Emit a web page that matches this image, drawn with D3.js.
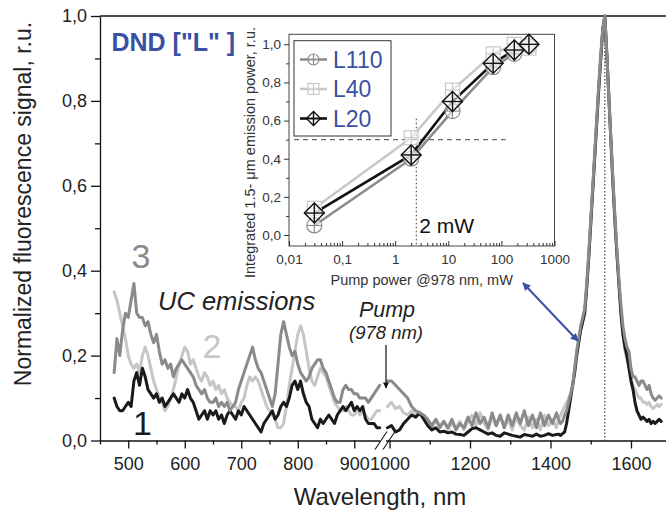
<!DOCTYPE html>
<html>
<head>
<meta charset="utf-8">
<script src="https://cdn.jsdelivr.net/npm/d3@7"></script>
<style>
  body { margin: 0; background: #fff; }
  svg { display: block; }
  text { font-family: "Liberation Sans", Arial, Helvetica, sans-serif; }
</style>
</head>
<body>
<svg id="chart" width="666" height="514"></svg>
<script>
// ---------- spectra: up-conversion part (nm) ----------
const wavelengthUC = [475,480,485,490,495,500,505,510,515,520,525,530,535,540,545,550,555,560,565,570,
  575,580,585,590,595,600,605,610,615,620,625,630,635,640,645,650,655,660,665,670,
  675,680,685,690,695,700,705,710,715,720,725,730,735,740,745,750,755,760,765,770,
  775,780,785,790,795,800,805,810,815,820,825,830,835,840,845,850,855,860,865,870,
  875,880,885,890,895,900,905,910,915,920,925,930,935,940,945];
const sample3UC = [0.16,0.24,0.20,0.26,0.30,0.29,0.33,0.37,0.30,0.29,
  0.29,0.27,0.28,0.25,0.23,0.25,0.21,0.18,0.19,0.17,
  0.18,0.15,0.17,0.18,0.19,0.18,0.17,0.16,0.15,0.13,
  0.12,0.11,0.12,0.10,0.09,0.09,0.10,0.08,0.09,0.08,
  0.09,0.07,0.08,0.09,0.12,0.14,0.16,0.18,0.20,0.22,
  0.19,0.17,0.16,0.14,0.12,0.10,0.08,0.11,0.18,0.25,
  0.28,0.25,0.22,0.20,0.21,0.18,0.16,0.15,0.14,0.15,
  0.17,0.18,0.19,0.19,0.17,0.16,0.14,0.12,0.10,0.09,
  0.09,0.12,0.13,0.12,0.12,0.11,0.11,0.10,0.10,0.10,
  0.09,0.10,0.11,0.12,0.13];
const sample2UC = [0.35,0.33,0.30,0.27,0.24,0.20,0.18,0.17,0.18,0.16,
  0.20,0.22,0.20,0.17,0.14,0.12,0.10,0.09,0.07,0.08,
  0.10,0.12,0.15,0.18,0.20,0.22,0.21,0.18,0.19,0.17,
  0.15,0.14,0.16,0.15,0.13,0.14,0.12,0.13,0.11,0.12,
  0.10,0.09,0.08,0.08,0.07,0.09,0.10,0.13,0.15,0.14,
  0.15,0.14,0.12,0.10,0.08,0.07,0.06,0.05,0.03,0.03,
  0.04,0.08,0.13,0.17,0.21,0.25,0.27,0.25,0.21,0.17,
  0.14,0.13,0.15,0.17,0.16,0.15,0.13,0.11,0.09,0.08,
  0.07,0.07,0.08,0.07,0.06,0.06,0.07,0.06,0.07,0.06,
  0.05,0.05,0.06,0.07,0.07];
const sample1UC = [0.10,0.08,0.07,0.07,0.08,0.09,0.08,0.14,0.16,0.13,
  0.17,0.15,0.12,0.11,0.10,0.11,0.09,0.10,0.08,0.09,
  0.10,0.11,0.10,0.09,0.11,0.10,0.12,0.10,0.09,0.07,
  0.05,0.06,0.07,0.05,0.07,0.06,0.07,0.05,0.06,0.04,
  0.06,0.07,0.06,0.05,0.07,0.06,0.08,0.07,0.06,0.05,
  0.04,0.03,0.02,0.04,0.05,0.06,0.07,0.05,0.06,0.08,
  0.09,0.08,0.10,0.13,0.14,0.12,0.14,0.11,0.09,0.08,
  0.05,0.04,0.03,0.05,0.04,0.05,0.06,0.05,0.04,0.06,
  0.07,0.08,0.07,0.08,0.09,0.07,0.08,0.07,0.08,0.05,
  0.04,0.04,0.04,0.03,0.03];

// ---------- spectra: 1.5 um emission part (nm) ----------
const wavelengthIR = [995,1005,1015,1025,1035,1045,1055,1065,1075,1085,
  1095,1105,1115,1125,1135,1145,1155,1165,1175,1185,
  1195,1205,1215,1225,1235,1245,1255,1265,1275,1285,
  1295,1305,1315,1325,1335,1345,1355,1365,1375,1385,
  1395,1405,1415,
  1420,1425,1430,1435,1440,1445,1450,1455,1460,1465,
  1470,1475,1480,1485,1490,1495,1500,1505,1510,1515,
  1520,1525,1530,1535,1540,1545,1550,1555,1560,1565,
  1570,1575,1580,1585,1590,1595,1600,1605,1610,1615,
  1620,1625,1630,1635,1640,1645,1650,1655,1660,1665,
  1670,1675];
const sample3IR = [0.14,0.14,0.13,0.12,0.11,0.10,0.08,0.07,0.065,0.06,
  0.05,0.035,0.05,0.03,0.045,0.03,0.05,0.025,0.04,0.03,
  0.055,0.035,0.065,0.04,0.055,0.03,0.065,0.035,0.06,0.03,
  0.06,0.035,0.065,0.04,0.07,0.035,0.06,0.03,0.065,0.035,
  0.06,0.04,0.065,
  0.05,0.04,0.045,0.06,0.07,0.09,0.11,0.13,0.17,0.21,
  0.24,0.27,0.29,0.31,0.37,0.44,0.52,0.60,0.68,0.76,
  0.84,0.91,0.97,1.00,0.91,0.81,0.71,0.62,0.53,0.45,
  0.38,0.32,0.27,0.24,0.22,0.21,0.17,0.15,0.15,0.14,
  0.13,0.14,0.14,0.13,0.12,0.13,0.11,0.10,0.095,0.10,
  0.105,0.10];
const sample2IR = [0.08,0.09,0.075,0.08,0.065,0.06,0.07,0.06,0.065,0.055,
  0.045,0.03,0.05,0.035,0.045,0.025,0.04,0.03,0.045,0.025,
  0.045,0.06,0.035,0.065,0.04,0.025,0.055,0.035,0.06,0.03,
  0.05,0.025,0.055,0.035,0.025,0.055,0.03,0.05,0.025,0.06,
  0.035,0.05,0.03,
  0.05,0.06,0.07,0.08,0.09,0.10,0.11,0.13,0.16,0.20,
  0.23,0.26,0.28,0.30,0.36,0.43,0.51,0.59,0.67,0.75,
  0.83,0.90,0.97,1.00,0.91,0.81,0.71,0.61,0.52,0.44,
  0.37,0.30,0.25,0.21,0.19,0.17,0.15,0.13,0.12,0.11,
  0.10,0.10,0.09,0.09,0.085,0.09,0.08,0.075,0.08,0.085,
  0.08,0.085];
const sample1IR = [0.03,0.035,0.02,0.025,0.04,0.05,0.06,0.055,0.065,0.05,
  0.035,0.025,0.03,0.02,0.022,0.018,0.02,0.015,0.014,0.012,
  0.02,0.028,0.03,0.025,0.02,0.015,0.018,0.012,0.01,0.018,
  0.015,0.012,0.01,0.008,0.014,0.012,0.01,0.015,0.01,0.012,
  0.016,0.012,0.014,
  0.015,0.012,0.016,0.02,0.04,0.07,0.10,0.13,0.16,0.20,
  0.23,0.26,0.28,0.30,0.36,0.43,0.51,0.59,0.67,0.75,
  0.83,0.90,0.97,1.00,0.91,0.81,0.71,0.61,0.52,0.44,
  0.37,0.30,0.25,0.22,0.20,0.17,0.14,0.12,0.09,0.07,
  0.06,0.05,0.055,0.05,0.045,0.05,0.04,0.045,0.04,0.045,
  0.05,0.045];

// ---------- inset: integrated emission vs pump power ----------
const pumpPower = [0.03, 2, 12, 70, 175, 330];
const emissionL110 = [0.05, 0.40, 0.65, 0.88, 0.95, 0.99];
const emissionL40  = [0.14, 0.51, 0.76, 0.95, 1.00, 0.98];
const emissionL20  = [0.115, 0.42, 0.70, 0.90, 0.97, 1.00];
const insetSeriesNames = ["L110", "L40", "L20"];
const halfPowerPump = 2.5;   // mW, dotted guide
const peakWavelength = 1535; // nm, dotted guide

// ---------- tick labels ----------
const xMajorTicks = [500, 600, 700, 800, 900, 1000, 1200, 1400, 1600];
const xMinorTicks = [450, 550, 650, 750, 850, 1100, 1300, 1500];
const yMajorTicks = [0, 0.2, 0.4, 0.6, 0.8, 1.0];
const yMinorTicks = [0.1, 0.3, 0.5, 0.7, 0.9];
const insetXTicks = [0.01, 0.1, 1, 10, 100, 1000];
const insetXTickLabels = ["0,01", "0,1", "1", "10", "100", "1000"];
const insetYTicks = [0, 0.2, 0.4, 0.6, 0.8, 1.0];

const comma = v => d3.format(".1f")(v).replace(".", ",");

const svg = d3.select("#chart");
const BLUE = "#3a50a4";
const C1 = "#1a1a1a", C2 = "#c6c6c6", C3 = "#8a8a8a";

// main scales (broken wavelength axis)
const x = d3.scaleLinear().domain([450, 950, 990, 1690]).range([100, 382.5, 385.5, 667.2]);
const y = d3.scaleLinear().domain([0, 1]).range([440.5, 16]);

// ---------- main axes ----------
const gx = svg.append("g").attr("transform", `translate(0,${y(0)})`)
  .call(d3.axisBottom(x).tickValues(xMajorTicks).tickSize(8).tickSizeOuter(0).tickPadding(9).tickFormat(d => d));
gx.selectAll("text").attr("font-size", 18).attr("fill", "#222").style("font-family", "Liberation Sans, Arial, sans-serif");
const gxm = svg.append("g").attr("transform", `translate(0,${y(0)})`)
  .call(d3.axisBottom(x).tickValues(xMinorTicks).tickSize(4).tickSizeOuter(0).tickFormat(""));
gxm.select(".domain").remove();

const gy = svg.append("g").attr("transform", `translate(${x(450)},0)`)
  .call(d3.axisLeft(y).tickValues(yMajorTicks).tickSize(9).tickSizeOuter(0).tickPadding(4).tickFormat(comma));
gy.selectAll("text").attr("font-size", 18).attr("fill", "#222").style("font-family", "Liberation Sans, Arial, sans-serif");
const gym = svg.append("g").attr("transform", `translate(${x(450)},0)`)
  .call(d3.axisLeft(y).tickValues(yMinorTicks).tickSize(5).tickSizeOuter(0).tickFormat(""));
gym.select(".domain").remove();
svg.selectAll(".domain, .tick line").attr("stroke", "#111").attr("stroke-width", 1.3);

// top frame line
svg.append("line").attr("x1", x(450)).attr("x2", 666).attr("y1", y(1)).attr("y2", y(1))
  .attr("stroke", "#111").attr("stroke-width", 1.3);

// axis break marks
svg.append("rect").attr("x", 380).attr("y", y(0) - 2).attr("width", 6).attr("height", 4).attr("fill", "#fff");
[[375, 387], [383, 395]].forEach(([a, b]) => {
  svg.append("line").attr("x1", a).attr("y1", y(0) + 9).attr("x2", b).attr("y2", y(0) - 9)
    .attr("stroke", "#111").attr("stroke-width", 1.1);
});

// axis titles
svg.append("text").attr("transform", "translate(31,204) rotate(-90)").attr("text-anchor", "middle")
  .attr("font-size", 23).attr("fill", "#222").text("Normalized fluorescence signal, r.u.");
svg.append("text").attr("x", 380).attr("y", 505).attr("text-anchor", "middle")
  .attr("font-size", 24).attr("fill", "#222").text("Wavelength, nm");

// peak guide
svg.append("line").attr("x1", x(peakWavelength)).attr("x2", x(peakWavelength)).attr("y1", y(1)).attr("y2", y(0))
  .attr("stroke", "#222").attr("stroke-width", 1).attr("stroke-dasharray", "1.5,2");

// ---------- spectra ----------
const line = d3.line().x(d => x(d[0])).y(d => y(d[1]));
const spectra = [
  { color: C2, uc: sample2UC, ir: sample2IR },
  { color: C1, uc: sample1UC, ir: sample1IR },
  { color: C3, uc: sample3UC, ir: sample3IR }
];
spectra.forEach(s => {
  [[wavelengthUC, s.uc], [wavelengthIR, s.ir]].forEach(([w, v]) => {
    svg.append("path").datum(w.map((d, i) => [d, v[i]]))
      .attr("d", line).attr("fill", "none").attr("stroke", s.color)
      .attr("stroke-width", 3).attr("stroke-linejoin", "round").attr("stroke-linecap", "round");
  });
});

// ---------- annotations ----------
const defs = svg.append("defs");
defs.append("marker").attr("id", "headBlue").attr("viewBox", "0 0 10 10").attr("refX", 9).attr("refY", 5)
  .attr("markerWidth", 10).attr("markerHeight", 8).attr("markerUnits", "userSpaceOnUse").attr("orient", "auto-start-reverse")
  .append("path").attr("d", "M0,0 L10,5 L0,10 Z").attr("fill", BLUE);
defs.append("marker").attr("id", "headBlack").attr("viewBox", "0 0 10 10").attr("refX", 9).attr("refY", 5)
  .attr("markerWidth", 9).attr("markerHeight", 6).attr("markerUnits", "userSpaceOnUse").attr("orient", "auto")
  .append("path").attr("d", "M0,0 L10,5 L0,10 Z").attr("fill", "#111");

svg.append("line").attr("x1", 523).attr("y1", 283).attr("x2", 578).attr("y2", 341)
  .attr("stroke", BLUE).attr("stroke-width", 2)
  .attr("marker-start", "url(#headBlue)").attr("marker-end", "url(#headBlue)");
svg.append("line").attr("x1", 386).attr("y1", 345).attr("x2", 386).attr("y2", 388)
  .attr("stroke", "#111").attr("stroke-width", 1.2).attr("marker-end", "url(#headBlack)");

svg.append("text").attr("x", 387).attr("y", 316.5).attr("text-anchor", "middle").attr("font-size", 21.5)
  .attr("font-style", "italic").attr("fill", "#222").text("Pump");
svg.append("text").attr("x", 386).attr("y", 339).attr("text-anchor", "middle").attr("font-size", 18.5)
  .attr("font-style", "italic").attr("fill", "#222").text("(978 nm)");
svg.append("text").attr("x", 158).attr("y", 310).attr("font-size", 25.5)
  .attr("font-style", "italic").attr("fill", "#222").text("UC emissions");
svg.append("text").attr("x", 141).attr("y", 268).attr("text-anchor", "middle").attr("font-size", 34).attr("fill", C3).text("3");
svg.append("text").attr("x", 212).attr("y", 358).attr("text-anchor", "middle").attr("font-size", 34).attr("fill", C2).text("2");
svg.append("text").attr("x", 142.5).attr("y", 435).attr("text-anchor", "middle").attr("font-size", 34).attr("fill", C1).text("1");
svg.append("text").attr("x", 111.5).attr("y", 50.5).attr("font-size", 25).attr("font-weight", "bold")
  .attr("fill", BLUE).text('DND ["L" ]');

// ---------- inset ----------
const inset = svg.append("g");
const ix = d3.scaleLog().domain([0.01, 1000]).range([289, 554.5]);
const iy = d3.scaleLinear().domain([0, 1]).range([235, 44.3]);
inset.append("rect").attr("x", 289).attr("y", 34.3).attr("width", 265.5).attr("height", 211.7)
  .attr("fill", "#fff").attr("stroke", "#444").attr("stroke-width", 1);

const insetMinor = [];
[0.01, 0.1, 1, 10, 100].forEach(dec => { for (let k = 2; k <= 9; k++) insetMinor.push(dec * k); });
const iax = inset.append("g").attr("transform", "translate(0,246)")
  .call(d3.axisBottom(ix).tickValues(insetXTicks).tickSize(-5).tickSizeOuter(0).tickPadding(8)
    .tickFormat((d, i) => insetXTickLabels[i]));
iax.select(".domain").remove();
const iaxm = inset.append("g").attr("transform", "translate(0,246)")
  .call(d3.axisBottom(ix).tickValues(insetMinor).tickSize(-3).tickSizeOuter(0).tickFormat(""));
iaxm.select(".domain").remove();
const iay = inset.append("g").attr("transform", "translate(289,0)")
  .call(d3.axisLeft(iy).tickValues(insetYTicks).tickSize(5).tickSizeOuter(0).tickPadding(3).tickFormat(comma));
iay.select(".domain").remove();
const iaym = inset.append("g").attr("transform", "translate(289,0)")
  .call(d3.axisLeft(iy).tickValues([0.1, 0.3, 0.5, 0.7, 0.9]).tickSize(3).tickSizeOuter(0).tickFormat(""));
iaym.select(".domain").remove();
inset.selectAll(".tick line").attr("stroke", "#333").attr("stroke-width", 1);
inset.selectAll(".tick text").attr("font-size", 13.5).attr("fill", "#333")
  .style("font-family", "Liberation Sans, Arial, sans-serif");

inset.append("text").attr("transform", "translate(255,152.5) rotate(-90)").attr("text-anchor", "middle")
  .attr("font-size", 14.5).attr("fill", "#333").text("Integrated 1.5- \u03bcm emission power, r.u.");
inset.append("text").attr("x", 421.7).attr("y", 285).attr("text-anchor", "middle")
  .attr("font-size", 14.5).attr("fill", "#333").text("Pump power @978 nm, mW");

// guides
inset.append("line").attr("x1", 294).attr("x2", ix(120)).attr("y1", iy(0.5)).attr("y2", iy(0.5))
  .attr("stroke", "#666").attr("stroke-width", 1.2).attr("stroke-dasharray", "5,4");
inset.append("line").attr("x1", ix(halfPowerPump)).attr("x2", ix(halfPowerPump)).attr("y1", iy(0.61)).attr("y2", 246)
  .attr("stroke", "#555").attr("stroke-width", 1.2).attr("stroke-dasharray", "1.5,2.5");
inset.append("text").attr("x", ix(halfPowerPump) + 3).attr("y", 233).attr("font-size", 21).attr("fill", "#111").text("2 mW");

// marker drawing
function drawMarker(g, type, cx, cy, color, s, sw) {
  const m = g.append("g").attr("transform", `translate(${cx},${cy})`);
  if (type === "circle") m.append("circle").attr("r", s);
  else if (type === "square") m.append("rect").attr("x", -s).attr("y", -s).attr("width", 2 * s).attr("height", 2 * s);
  else m.append("path").attr("d", `M0,${-s}L${s},0L0,${s}L${-s},0Z`);
  m.append("line").attr("x1", -s).attr("x2", s).attr("y1", 0).attr("y2", 0);
  m.append("line").attr("x1", 0).attr("x2", 0).attr("y1", -s).attr("y2", s);
  m.selectAll("*").attr("fill", "#fff").attr("fill-opacity", 0.0).attr("stroke", color).attr("stroke-width", sw);
  m.select("circle, rect, path").attr("fill-opacity", 0.55);
}

const insetSeries = [
  { name: insetSeriesNames[0], values: emissionL110, color: "#8c8c8c", marker: "circle", size: 7.5, lsize: 5.5, sw: 1.2 },
  { name: insetSeriesNames[1], values: emissionL40, color: "#c8c8c8", marker: "square", size: 7, lsize: 5.5, sw: 1.2 },
  { name: insetSeriesNames[2], values: emissionL20, color: "#111", marker: "diamond", size: 10, lsize: 7, sw: 1.4 }
];
const iline = d3.line().x(d => ix(d[0])).y(d => iy(d[1]));
insetSeries.forEach(s => {
  inset.append("path").datum(pumpPower.map((p, i) => [p, s.values[i]])).attr("d", iline)
    .attr("fill", "none").attr("stroke", s.color).attr("stroke-width", 2.6);
});
insetSeries.forEach(s => {
  pumpPower.forEach((p, i) => drawMarker(inset, s.marker, ix(p), iy(s.values[i]), s.color, s.size, s.sw));
});

// legend
const lg = inset.append("g");
lg.append("rect").attr("x", 294).attr("y", 40.7).attr("width", 97).attr("height", 95.3)
  .attr("fill", "#fff").attr("stroke", "#333").attr("stroke-width", 1);
insetSeries.forEach((s, i) => {
  const ly = 59.5 + i * 29.5;
  lg.append("line").attr("x1", 300).attr("x2", 327).attr("y1", ly).attr("y2", ly)
    .attr("stroke", s.color).attr("stroke-width", 2.6);
  drawMarker(lg, s.marker, 313.5, ly, s.color, s.lsize, s.sw);
  lg.append("text").attr("x", 333).attr("y", ly).attr("dy", "0.36em").attr("font-size", 23)
    .attr("fill", BLUE).text(s.name);
});
</script>
</body>
</html>
